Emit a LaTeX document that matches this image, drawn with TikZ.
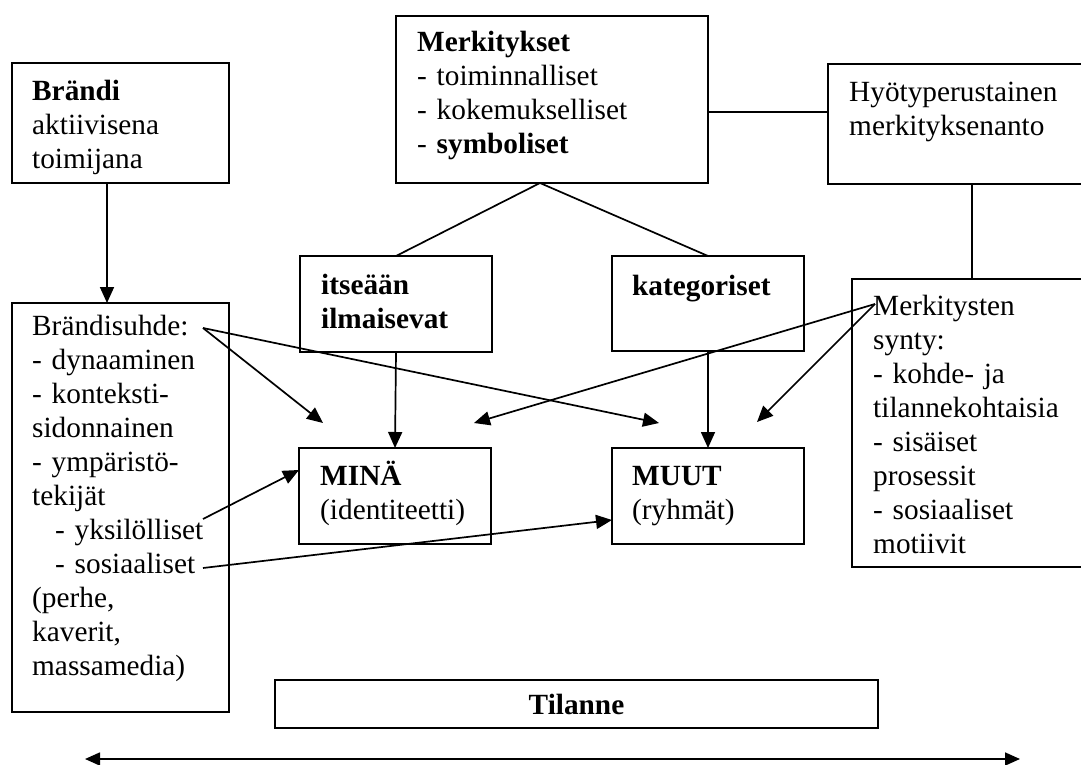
\documentclass[tikz,border=0pt]{standalone}
\usepackage{fontspec}
\setmainfont{Liberation Serif}
\usetikzlibrary{arrows.meta}
\begin{document}
\begin{tikzpicture}[x=1pt,y=-1pt,
  box/.style={draw, line width=1.7pt, anchor=north west, inner sep=0pt, outer sep=0pt},
  txt/.style={anchor=base west, inner sep=0pt, align=left, text width=280pt,
              font=\fontsize{29.3}{34}\selectfont},
  ln/.style={line width=1.7pt},
  arr/.style={line width=1.7pt, -{Triangle[length=16pt,width=14pt]}},
  arrboth/.style={line width=1.7pt, {Triangle[length=15pt,width=13pt]}-{Triangle[length=15pt,width=13pt]}}]
\useasboundingbox (0,0) rectangle (1081,765);
\clip (0,0) rectangle (1081,765);

% boxes and their texts
\node[box, minimum width=217pt, minimum height=120pt] (brandi) at (12,63) {};
\node[txt] (brandi-t) at (32,101) {\textbf{Brändi}\\aktiivisena\\toimijana};

\node[box, minimum width=312pt, minimum height=167pt] (merk) at (396,16) {};
\node[txt] (merk-t) at (417,52) {\textbf{Merkitykset}\\- toiminnalliset\\- kokemukselliset\\- \textbf{symboliset}};

\node[box, minimum width=288pt, minimum height=120pt] (hyoty) at (828,64) {};
\node[txt] (hyoty-t) at (849,102) {Hyötyperustainen\\merkityksenanto};

\node[box, minimum width=192pt, minimum height=96pt] (itse) at (300,256) {};
\node[txt] (itse-t) at (321,294) {\textbf{itseään}\\\textbf{ilmaisevat}};

\node[box, minimum width=192pt, minimum height=95pt] (kat) at (612,256) {};
\node[txt] (kat-t) at (632,295) {\textbf{kategoriset}};

\node[box, minimum width=192pt, minimum height=96pt] (mina) at (299,448) {};
\node[txt] (mina-t) at (320,485) {\textbf{MINÄ}\\(identiteetti)};

\node[box, minimum width=192pt, minimum height=96pt] (muut) at (612,448) {};
\node[txt] (muut-t) at (632,485) {\textbf{MUUT}\\(ryhmät)};

\node[box, minimum width=217pt, minimum height=409pt] (suhde) at (12,303) {};
\node[txt] (suhde-t) at (32,335) {Brändisuhde:\\- dynaaminen\\- konteksti-\\sidonnainen\\- ympäristö-\\tekijät\\\hspace*{23pt}- yksilölliset\\\hspace*{23pt}- sosiaaliset\\(perhe,\\kaverit,\\massamedia)};

\node[box, minimum width=240pt, minimum height=288pt] (synty) at (852,279) {};
\node[txt] (synty-t) at (873,315) {Merkitysten\\synty:\\- kohde- ja\\tilannekohtaisia\\- sisäiset\\prosessit\\- sosiaaliset\\motiivit};

\node[box, minimum width=603pt, minimum height=48pt, font=\fontsize{29.3}{34}\selectfont\bfseries] (tilanne) at (275,680) {Tilanne};

% connector end points
\coordinate (apex) at (540,183);
\coordinate (bs) at (203,328);
\coordinate (bs1) at (323,423);
\coordinate (bs2) at (659,423);
\coordinate (ms) at (875,304);
\coordinate (ms1) at (757,422);
\coordinate (ms2) at (474,423);
\coordinate (yks) at (203,519);
\coordinate (sos) at (203,568);
\coordinate (la) at (85,759);
\coordinate (ra) at (1020,759);

% connectors
\draw[arr] ([xshift=-13.5pt]brandi.south) -- ([xshift=-13.5pt]suhde.north);
\draw[ln] (apex) -- (itse.north);
\draw[ln] (apex) -- (kat.north);
\draw[ln] ([yshift=-12.5pt]merk.east) -- ([yshift=12pt]hyoty.west);
\draw[ln] (hyoty.south) -- (synty.north);
\draw[arr] (itse.south) -- (mina.north);
\draw[arr] (kat.south) -- (muut.north);
\draw[arr] (bs) -- (bs1);
\draw[arr] (bs) -- (bs2);
\draw[arr] (ms) -- (ms1);
\draw[arr] (ms) -- (ms2);
\draw[arr] (yks) -- ([yshift=26pt]mina.west);
\draw[arr] (sos) -- ([yshift=-24pt]muut.west);
\draw[arrboth] (la) -- (ra);
\end{tikzpicture}
\end{document}
